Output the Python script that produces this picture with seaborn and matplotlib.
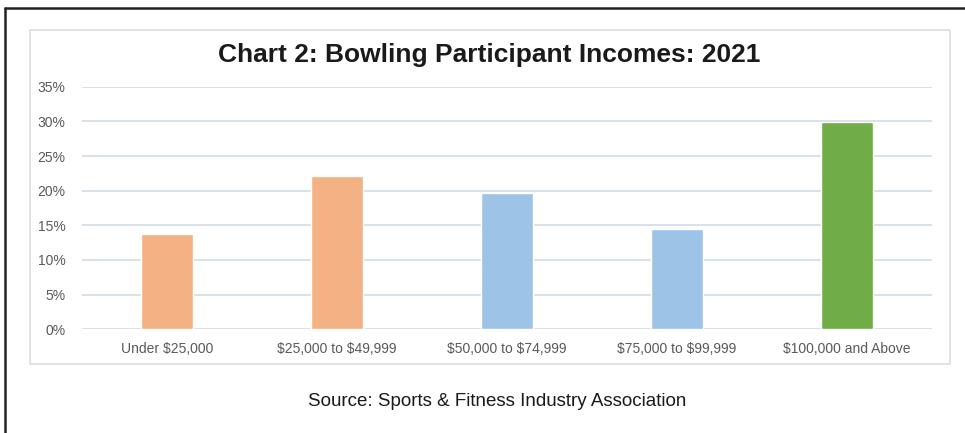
import matplotlib
matplotlib.use("Agg")
import matplotlib.pyplot as plt
import seaborn as sns
import pandas as pd
from matplotlib.patches import Rectangle
from matplotlib.lines import Line2D
from matplotlib.ticker import FuncFormatter

categories = ["Under $25,000", "$25,000 to $49,999", "$50,000 to $74,999",
              "$75,000 to $99,999", "$100,000 and Above"]
shares = [13.7, 22.1, 19.6, 14.5, 29.9]
bar_colors = ["#F4B183", "#F4B183", "#9DC3E6", "#9DC3E6", "#70AD47"]
y_ticks = [0, 5, 10, 15, 20, 25, 30, 35]
title = "Chart 2: Bowling Participant Incomes: 2021"
source = "Source: Sports & Fitness Industry Association"

sns.set_theme(style="white")
plt.rcParams["font.family"] = ["Liberation Sans", "DejaVu Sans"]
plt.rcParams["text.parse_math"] = False

df = pd.DataFrame({"cat": categories, "val": shares})

fig = plt.figure(figsize=(9.65, 4.33), dpi=100)
ax = fig.add_axes([82/965, 1-329.3/433, (932-82)/965, (329.3-86.7)/433])

sns.barplot(data=df, x="cat", y="val", hue="cat", palette=bar_colors,
            order=categories, hue_order=categories, width=0.31,
            legend=False, ax=ax, saturation=1, zorder=3)

ax.set_ylim(0, 35)
ax.set_xlim(-0.5, 4.5)
ax.set_yticks(y_ticks)
ax.yaxis.set_major_formatter(FuncFormatter(lambda v, p: f"{int(v)}%"))
ax.grid(axis="y", color="#D7DFE7", linewidth=1.3, zorder=0)
ax.grid(axis="x", visible=False)
for s in ax.spines.values():
    s.set_visible(False)
ax.set_xlabel("")
ax.set_ylabel("")
ax.tick_params(axis="y", colors="#595959", labelsize=10, length=0, pad=12)
ax.tick_params(axis="x", colors="#595959", labelsize=10, length=0, pad=9)
ax.set_facecolor("none")

# inner chart box
fig.patches.append(Rectangle((30/965, 1-364/433), 920/965, 334/433,
                             transform=fig.transFigure, fill=False,
                             edgecolor="#D9DEE3", linewidth=1.2))
# outer frame (top and left)
fig.lines.append(Line2D([5/965, 1], [1-7.5/433, 1-7.5/433],
                        transform=fig.transFigure, color="#222222", linewidth=1.8))
fig.lines.append(Line2D([5/965, 5/965], [0, 1-7.5/433],
                        transform=fig.transFigure, color="#222222", linewidth=1.8))

fig.text(489/965, 1-55/433, title, ha="center", va="center",
         fontsize=19, fontweight="bold", color="#1A1A1A")
fig.text(497/965, 1-402/433, source, ha="center", va="center",
         fontsize=13.5, color="#1A1A1A")

fig.savefig("out.png", dpi=100)
